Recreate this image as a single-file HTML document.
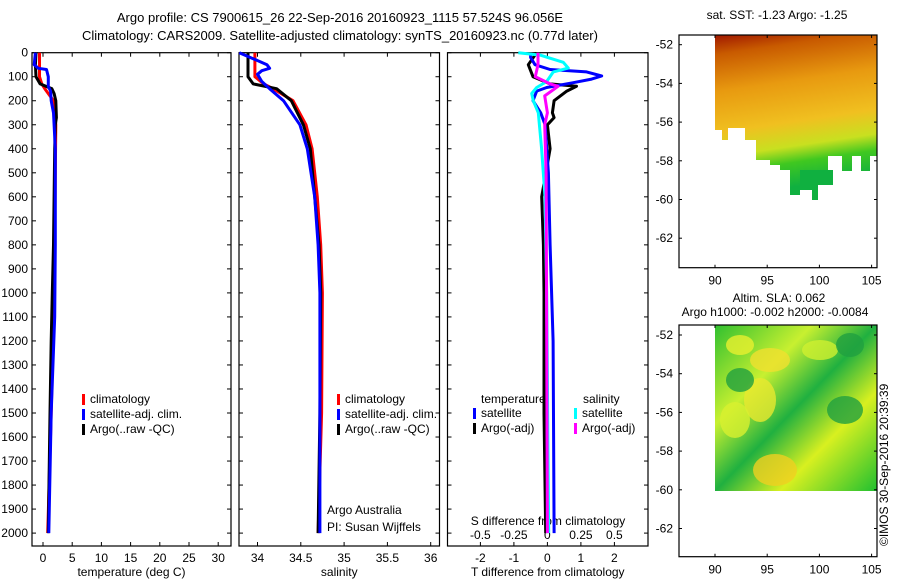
<!DOCTYPE html>
<html><head><meta charset="utf-8"><style>
body{margin:0;background:#fff;}
svg{display:block;font-family:"Liberation Sans",sans-serif;font-size:12px;}
</style></head><body>
<svg id="fig" width="900" height="580" viewBox="0 0 900 580">
<defs>
<linearGradient id="sstg" x1="0" y1="0" x2="0.15" y2="1">
<stop offset="0" stop-color="#a01800"/><stop offset="0.12" stop-color="#c85a00"/>
<stop offset="0.35" stop-color="#e89a10"/><stop offset="0.6" stop-color="#f0c020"/>
<stop offset="0.75" stop-color="#c8e020"/><stop offset="0.85" stop-color="#40c820"/><stop offset="1" stop-color="#10b040"/>
</linearGradient>
<linearGradient id="slag" x1="0" y1="0" x2="1" y2="1">
<stop offset="0" stop-color="#30c030"/><stop offset="0.3" stop-color="#c8f030"/>
<stop offset="0.5" stop-color="#20b040"/><stop offset="0.7" stop-color="#d8f020"/><stop offset="1" stop-color="#20c030"/>
</linearGradient>
</defs>
<text x="340" y="22" text-anchor="middle" font-size="13">Argo profile: CS 7900615_26 22-Sep-2016 20160923_1115 57.524S 96.056E</text>
<text x="340" y="40" text-anchor="middle" font-size="13">Climatology: CARS2009. Satellite-adjusted climatology: synTS_20160923.nc (0.77d later)</text>
<g id="g"></g>
</svg>
<script>
// ---- data ----
const tDepth=[0,50,100,130,150,170,200,270,300,400,600,800,1000,1200,1500,2000];
const tArgo=[-1.2,-1.3,-1.2,-0.5,1.5,1.9,2.2,2.3,2.1,2.0,1.9,1.8,1.6,1.4,1.2,0.9];
const tClimDepth=[0,100,130,150,200,300,500,800,1000,1500,2000];
const tClim=[-0.6,-0.6,-0.2,0.3,1.8,2.2,2.1,2.0,1.9,1.4,0.8];
const tSatDepth=[0,50,65,70,100,140,160,200,250,400,800,1100,1500,2000];
const tSat=[-1.3,-1.5,-0.8,0.6,0.9,0.9,1.3,1.4,1.8,2.1,2.1,2.0,1.4,1.0];
const sDepth=[0,100,130,150,200,300,400,600,800,1000,1500,2000];
const sArgo=[33.89,33.89,33.95,34.22,34.39,34.53,34.61,34.66,34.71,34.73,34.72,34.70];
const sClim=[33.97,33.97,34.07,34.18,34.41,34.56,34.63,34.69,34.73,34.75,34.74,34.70];
const sSatDepth=[0,25,50,65,75,90,120,150,200,300,400,600,800,1000,1500,2000];
const sSat=[33.79,33.95,34.11,34.14,34.05,34.0,34.05,34.14,34.30,34.49,34.575,34.66,34.70,34.72,34.72,34.72];
const dTSatDepth=[0,20,50,70,80,97,110,125,145,160,200,250,300,500,800,1200,2000];
const dTSat=[-0.5,-0.5,-0.37,0.08,1.17,1.62,1.32,0.77,-0.02,-0.32,-0.43,-0.2,-0.07,0.03,0.08,0.17,0.2];
const dTArgoDepth=[0,50,100,130,140,160,200,250,270,300,400,600,800,1000,1500,2000];
const dTArgo=[-0.32,-0.57,-0.43,0.08,0.87,0.58,0.2,0.15,0.2,0.0,0.08,-0.17,-0.12,-0.1,-0.1,-0.05];
const dSSatDepth=[0,10,40,64,80,120,145,170,200,250,400,600,1000,2000];
const dSSat=[-0.217,-0.055,0.119,0.156,0.044,-0.005,-0.08,-0.117,-0.105,-0.068,-0.043,-0.018,-0.005,0.01];
const dSArgoDepth=[0,50,100,130,140,180,250,300,500,2000];
const dSArgo=[-0.07,-0.07,-0.09,0.02,0.08,-0.02,0.0,-0.02,-0.01,0.0];
const depthTicks=[0,100,200,300,400,500,600,700,800,900,1000,1100,1200,1300,1400,1500,1600,1700,1800,1900,2000];
const tTicks=[0,5,10,15,20,25,30];
const sTicks=[34,34.5,35,35.5,36];
const dTTicks=[-2,-1,0,1,2];
const dSTicks=[-0.5,-0.25,0,0.25,0.5];
const lonTicks=[90,95,100,105];
const latTicks=[-52,-54,-56,-58,-60,-62];

const NS='http://www.w3.org/2000/svg';
const G=document.getElementById('g');
function mk(tag,attrs,parent){const e=document.createElementNS(NS,tag);for(const k in attrs)e.setAttribute(k,attrs[k]);(parent||G).appendChild(e);return e;}
function txt(x,y,s,anchor,parent){const e=mk('text',{x:x,y:y,'text-anchor':anchor||'middle'},parent);e.textContent=s;return e;}

const Y0=52.7,Y1=546;
const yD=d=>Y0+d*0.2402;
function panel(name,x0,x1,xfn,ticks,fmt,xlabel){
  const g=mk('g',{});
  
  
  mk('rect',{x:x0,y:Y0,width:x1-x0,height:Y1-Y0,fill:'none',stroke:'#000','stroke-width':1.2},g);
  ticks.forEach(t=>{const x=xfn(t);
    mk('line',{x1:x,x2:x,y1:Y1,y2:Y1-4,stroke:'#000'},g);
    mk('line',{x1:x,x2:x,y1:Y0,y2:Y0+4,stroke:'#000'},g);
    if(fmt){const l=txt(x,Y1+16,fmt(t),'middle',g);}
  });
  depthTicks.forEach(d=>{const y=yD(d);
    mk('line',{x1:x0,x2:x0+4,y1:y,y2:y,stroke:'#000'},g);
    mk('line',{x1:x1,x2:x1-4,y1:y,y2:y,stroke:'#000'},g);});
  const xl=txt((x0+x1)/2,576,xlabel,'middle',g);
  
  
  return g;
}
function line(g,xs,ds,xfn,color,w,name){
  const pts=xs.map((v,i)=>xfn(v).toFixed(1)+','+yD(ds[i]).toFixed(1)).join(' ');
  const p=mk('polyline',{points:pts,fill:'none',stroke:color,'stroke-width':w,'stroke-linejoin':'round'},g);
  
  
}
function legend(g,x,y,items){
  items.forEach((it,i)=>{
    const r=mk('rect',{x:x,y:y+i*15-9,width:3,height:11,fill:it[1]},g);
    
    
    const t=txt(x+8,y+i*15,it[0],'start',g);
    
    
  });
}
// depth labels
depthTicks.forEach(d=>{const t=txt(28,yD(d)+4,String(d),'end');
  
  });

// panel 1 temperature
const xT=t=>43+t*5.84;
const p1=panel('temperature-panel',32,231,xT,tTicks,String,'temperature (deg C)');
line(p1,tClim,tClimDepth,xT,'#f00',3,'temp-climatology-line');
line(p1,tArgo,tDepth,xT,'#000',3,'temp-argo-line');
line(p1,tSat,tSatDepth,xT,'#00f',3,'temp-satellite-line');
legend(p1,82,403,[['climatology','#f00'],['satellite-adj. clim.','#00f'],['Argo(..raw -QC)','#000']]);

// panel 2 salinity
const xS=s=>257.5+(s-34)*86.6;
const p2=panel('salinity-panel',239,439.5,xS,sTicks,String,'salinity');
line(p2,sClim,sDepth,xS,'#f00',3,'sal-climatology-line');
line(p2,sArgo,sDepth,xS,'#000',3,'sal-argo-line');
line(p2,sSat,sSatDepth,xS,'#00f',3,'sal-satellite-line');
legend(p2,337,403,[['climatology','#f00'],['satellite-adj. clim.','#00f'],['Argo(..raw -QC)','#000']]);
const a1=txt(327,514,'Argo Australia','start',p2);
const a2=txt(327,531,'PI: Susan Wijffels','start',p2);

// panel 3 differences
const xDT=t=>547.4+t*33.5;
const xDS=s=>547.4+s*134;
const p3=panel('difference-panel',447.5,648,xDT,dTTicks,String,'T difference from climatology');
dSTicks.forEach(s=>{const t=txt(xDS(s),539,String(s),'middle',p3);});
const sl=txt(548,525,'S difference from climatology','middle',p3);
line(p3,dTArgo,dTArgoDepth,xDT,'#000',3,'dT-argo-line');
line(p3,dTSat,dTSatDepth,xDT,'#00f',3,'dT-satellite-line');
line(p3,dSSat,dSSatDepth,xDS,'#0ff',3,'dS-satellite-line');
line(p3,dSArgo,dSArgoDepth,xDS,'#f0f',3,'dS-argo-line');
const lt=txt(481,403,'temperature','start',p3);
const ls=txt(583,403,'salinity','start',p3);
legend(p3,473,417,[['satellite','#00f'],['Argo(-adj)','#000']]);
legend(p3,574,417,[['satellite','#0ff'],['Argo(-adj)','#f0f']]);

// maps
const xL=l=>715+(l-90)*10.44;
function map(name,top,bottom,yZero){
  const g=mk('g',{});
  
  
  const yL=la=>yZero+(-52-la)*19.35;
  return [g,yL,function(){
    mk('rect',{x:679,y:top,width:198,height:bottom-top,fill:'none',stroke:'#000','stroke-width':1.2},g);
    lonTicks.forEach(l=>{mk('line',{x1:xL(l),x2:xL(l),y1:top,y2:top+3,stroke:'#000'},g);
      mk('line',{x1:xL(l),x2:xL(l),y1:bottom,y2:bottom-3,stroke:'#000'},g);
      const t=txt(xL(l),bottom+17,String(l),'middle',g);});
    latTicks.forEach(la=>{mk('line',{x1:679,x2:682,y1:yL(la),y2:yL(la),stroke:'#000'},g);
      mk('line',{x1:877,x2:874,y1:yL(la),y2:yL(la),stroke:'#000'},g);
      const t=txt(673,yL(la)+4,String(la),'end',g);});
  }];
}
const [m1,yL1,ax1]=map('sst-map',35,267.7,44.7);
const sst=mk('polygon',{points:'715,35 877,35 877,156 870,156 870,171 861,171 861,156 852,156 852,171 842,171 842,156 828,156 828,170 815,170 815,185 800,185 800,195 790,195 790,170 780,170 780,165 770,165 770,160 756,160 756,140 745,140 745,128 728,128 728,140 722,140 722,130 715,130 715,90 722,90 722,96 715,96',fill:'url(#sstg)'},m1);


const isl=mk('polygon',{points:'800,170 833,170 833,185 818,185 818,200 812,200 812,190 800,190',fill:'#10b040'},m1);


ax1();
const t1=txt(777,19,'sat. SST: -1.23  Argo: -1.25','middle',m1);

const [m2,yL2,ax2]=map('sla-map',325,556.7,335);
const sla=mk('rect',{x:715,y:325,width:162,height:166,fill:'url(#slag)'},m2);


[[740,345,14,10,'#e8f030'],[770,360,20,12,'#f0e030'],[820,350,18,10,'#d0f030'],[760,400,16,22,'#e8e830'],[735,420,15,18,'#d8f030'],[775,470,22,16,'#f0d020'],[845,410,18,14,'#20a040'],[740,380,14,12,'#20a040'],[850,345,14,12,'#20a040']].forEach(b=>{
  const e=mk('ellipse',{cx:b[0],cy:b[1],rx:b[2],ry:b[3],fill:b[4],opacity:0.8},m2);
  
  
});
ax2();
const t2=txt(779,302,'Altim. SLA: 0.062','middle',m2);
const t3=txt(775,316,'Argo h1000: -0.002 h2000: -0.0084','middle',m2);
const ts=txt(0,0,'©IMOS 30-Sep-2016 20:39:39','start');
ts.setAttribute('transform','translate(888,546) rotate(-90)');


</script>
</body></html>
